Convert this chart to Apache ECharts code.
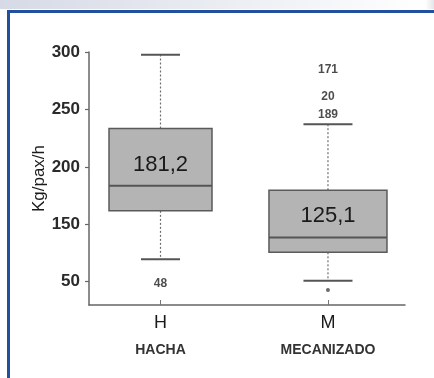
<!DOCTYPE html>
<html>
<head>
<meta charset="utf-8">
<script src="https://cdn.jsdelivr.net/npm/echarts@6/dist/echarts.min.js"></script>
<style>
  html, body { margin: 0; padding: 0; background: #fff; }
  #chart { width: 434px; height: 378px; }
</style>
</head>
<body>
<div id="chart"></div>
<script>
// Boxplot summary per group (kg per person per hour)
const categories = ['H', 'M'];
const categoryNames = ['HACHA', 'MECANIZADO'];
const whiskerLow = [119.5, 100.9];
const q1 = [161.7, 125.6];
const median = [183.5, 138.6];
const q3 = [233.4, 179.7];
const whiskerHigh = [297.7, 237.1];
const means = [181.2, 125.1];

// Labelled cases (case numbers) and extreme value
const caseGroup = [0, 1, 1, 1];
const caseValues = [98.6, 284.7, 261.5, 245.6];
const caseIds = ['48', '171', '20', '189'];
const extremeGroup = [1];
const extremeValues = [92.8];

// Y axis ticks and their printed labels
const yTicks = [100, 150, 200, 250, 300];
const yTickLabels = ['50', '150', '200', '250', '300'];

// Drawing styles (pixel widths per group)
const boxWidths = [103, 118];
const capWidths = [39, 49];
const FONT = '"Liberation Sans", Arial, sans-serif';

const boxData = categories.map((c, i) => [i, whiskerLow[i], q1[i], median[i], q3[i], whiskerHigh[i], means[i]]);

function renderBox(params, api) {
  const i = api.value(0);
  const x = api.coord([i, 0])[0];
  const y = v => api.coord([i, v])[1];
  const yLow = y(api.value(1)), yQ1 = y(api.value(2)), yMed = y(api.value(3));
  const yQ3 = y(api.value(4)), yHigh = y(api.value(5));
  const bw = boxWidths[params.dataIndex];
  const cw = capWidths[params.dataIndex];
  const dash = { stroke: '#6e6e6e', lineWidth: 1.2, lineDash: [2, 2] };
  const solid = { stroke: '#555', lineWidth: 2 };
  const meanText = api.value(6).toFixed(1).replace('.', ',');
  return {
    type: 'group',
    children: [
      { type: 'line', shape: { x1: x, y1: yQ3, x2: x, y2: yHigh }, style: dash },
      { type: 'line', shape: { x1: x, y1: yQ1, x2: x, y2: yLow }, style: dash },
      { type: 'line', shape: { x1: x - cw / 2, y1: yHigh, x2: x + cw / 2, y2: yHigh }, style: solid },
      { type: 'line', shape: { x1: x - cw / 2, y1: yLow, x2: x + cw / 2, y2: yLow }, style: solid },
      { type: 'rect', shape: { x: x - bw / 2, y: yQ3, width: bw, height: yQ1 - yQ3 },
        style: { fill: '#b4b4b4', stroke: '#5a5a5a', lineWidth: 1.5 } },
      { type: 'line', shape: { x1: x - bw / 2, y1: yMed, x2: x + bw / 2, y2: yMed }, style: { stroke: '#555', lineWidth: 2 } },
      { type: 'text', style: { text: meanText, x: x, y: (yQ1 + yQ3) / 2 - 5, align: 'center', verticalAlign: 'middle',
        fontSize: 22, fontFamily: FONT, fill: '#1a1a1a' } }
    ]
  };
}

const chart = echarts.init(document.getElementById('chart'), null, { renderer: 'canvas' });
chart.setOption({
  backgroundColor: '#fff',
  animation: false,
  graphic: [
    { type: 'rect', shape: { x: 0, y: 0, width: 434, height: 9 },
      style: { fill: new echarts.graphic.LinearGradient(0, 0, 1, 0, [
        { offset: 0, color: '#d6dae6' }, { offset: 0.75, color: '#f5f6f9' }, { offset: 0.98, color: '#ffffff' }, { offset: 1, color: '#e4e5ea' }]) } },
    { type: 'rect', shape: { x: 7, y: 10, width: 427, height: 3 }, style: { fill: '#234f9f' } },
    { type: 'rect', shape: { x: 7, y: 10, width: 3, height: 368 }, style: { fill: '#234f9f' } }
  ],
  grid: { left: 89, right: 29, top: 52, bottom: 73 },
  xAxis: {
    type: 'value',
    min: -0.427,
    max: 1.46,
    splitLine: { show: false },
    axisLine: { onZero: false, lineStyle: { color: '#666', width: 1.5 } },
    axisTick: { show: true, inside: true, length: 5, customValues: [0, 1], lineStyle: { color: '#777', width: 1 } },
    axisLabel: {
      customValues: [0, 1],
      margin: 6,
      formatter: v => '{a|' + categories[v] + '}\n{b|' + categoryNames[v] + '}',
      rich: {
        a: { fontSize: 18, lineHeight: 24, color: '#1a1a1a', fontFamily: FONT },
        b: { fontSize: 14, lineHeight: 31, color: '#333', fontWeight: 'bold', fontFamily: FONT }
      }
    }
  },
  yAxis: {
    type: 'value',
    min: 79.74,
    max: 300,
    name: 'Kg/pax/h',
    nameLocation: 'middle',
    nameGap: 41,
    nameMoveOverlap: false,
    nameTextStyle: { fontSize: 17, color: '#1a1a1a', fontFamily: FONT },
    splitLine: { show: false },
    axisLine: { show: true, onZero: false, lineStyle: { color: '#666', width: 1.5 } },
    axisTick: { show: true, length: 4, customValues: yTicks, lineStyle: { color: '#666', width: 1.2 } },
    axisLabel: {
      customValues: yTicks,
      margin: 9,
      fontSize: 17,
      fontWeight: 'bold',
      color: '#2a2a2a',
      fontFamily: FONT,
      formatter: v => yTickLabels[yTicks.indexOf(v)]
    }
  },
  series: [
    { type: 'custom', renderItem: renderBox, data: boxData, z: 2 },
    {
      type: 'scatter',
      data: caseValues.map((v, k) => [caseGroup[k], v]),
      symbolSize: 1,
      itemStyle: { color: 'rgba(0,0,0,0)' },
      label: {
        show: true, position: 'inside',
        formatter: p => caseIds[p.dataIndex],
        fontSize: 12, fontWeight: 'bold', color: '#1e1e1e', fontFamily: FONT
      },
      z: 3
    },
    {
      type: 'scatter',
      data: extremeValues.map((v, k) => [extremeGroup[k], v]),
      symbol: 'circle',
      symbolSize: 4,
      itemStyle: { color: '#444' },
      z: 3
    }
  ]
});
</script>
</body>
</html>
